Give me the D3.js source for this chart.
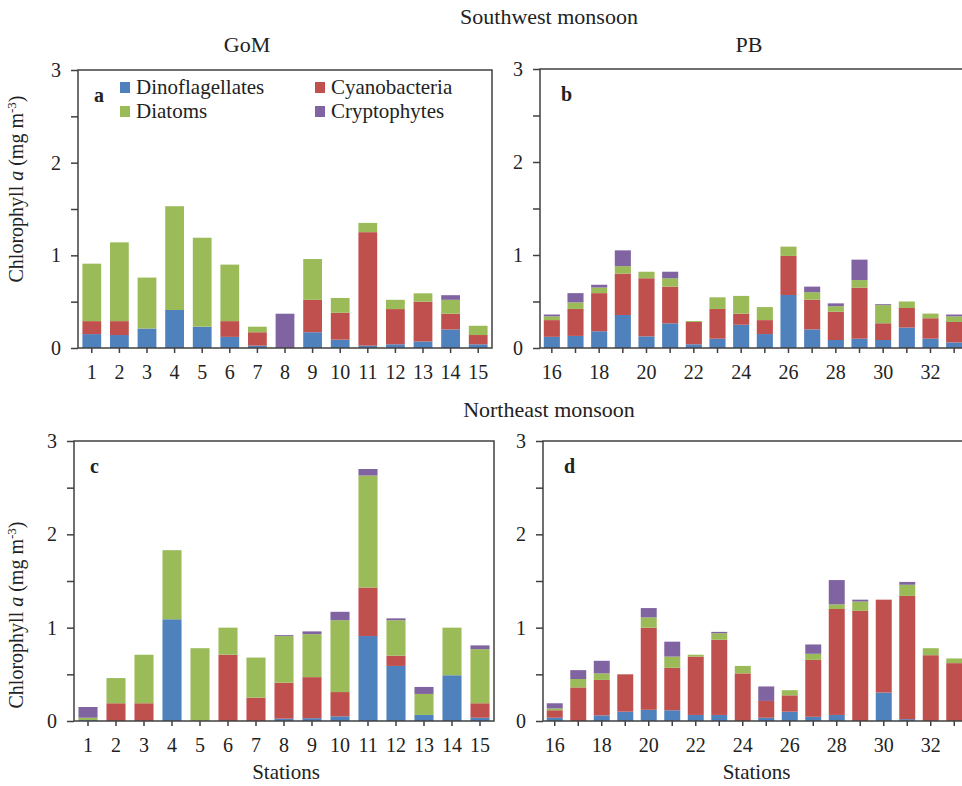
<!DOCTYPE html>
<html>
<head>
<meta charset="utf-8" />
<script src="https://cdn.jsdelivr.net/npm/d3@7"></script>
<style>
  body { margin: 0; background: #fff; }
  svg text { font-family: "Liberation Serif", "Times New Roman", serif; fill: #222; }
  .frame { fill: none; stroke: #404040; stroke-width: 1.5; }
  .axis path, .axis line { stroke: #404040; stroke-width: 1.5; }
  .axis text { font-size: 20px; }
</style>
</head>
<body>
<div id="chart"></div>
<script>
var W = 962, H = 786;

var groups = ["Dinoflagellates", "Cyanobacteria", "Diatoms", "Cryptophytes"];
var colors = ["#4F81BD", "#C0504D", "#9BBB59", "#8064A2"];

var stationsGoM = [1, 2, 3, 4, 5, 6, 7, 8, 9, 10, 11, 12, 13, 14, 15];
var stationsPB = [16, 17, 18, 19, 20, 21, 22, 23, 24, 25, 26, 27, 28, 29, 30, 31, 32, 33];
var labelsPB = [16, 18, 20, 22, 24, 26, 28, 30, 32];
var yTicks = [0, 0.5, 1, 1.5, 2, 2.5, 3];

// (a) southwest monsoon, GoM
var aDino   = [0.15, 0.14, 0.21, 0.41, 0.23, 0.12, 0.025, 0, 0.17, 0.09, 0.025, 0.04, 0.07, 0.20, 0.04];
var aCyano  = [0.14, 0.15, 0, 0, 0, 0.17, 0.145, 0, 0.35, 0.29, 1.225, 0.38, 0.43, 0.17, 0.10];
var aDiatom = [0.62, 0.85, 0.55, 1.12, 0.96, 0.61, 0.06, 0, 0.44, 0.16, 0.10, 0.10, 0.09, 0.15, 0.10];
var aCrypto = [0, 0, 0, 0, 0, 0, 0, 0.37, 0, 0, 0, 0, 0, 0.05, 0];

// (b) southwest monsoon, PB
var bDino   = [0.12, 0.13, 0.18, 0.355, 0.125, 0.265, 0.04, 0.10, 0.25, 0.15, 0.57, 0.20, 0.086, 0.10, 0.086, 0.22, 0.10, 0.06];
var bCyano  = [0.18, 0.29, 0.41, 0.445, 0.625, 0.395, 0.24, 0.32, 0.12, 0.15, 0.42, 0.32, 0.304, 0.55, 0.18, 0.21, 0.22, 0.22];
var bDiatom = [0.04, 0.07, 0.06, 0.08, 0.07, 0.09, 0.01, 0.125, 0.19, 0.14, 0.10, 0.08, 0.06, 0.08, 0.195, 0.07, 0.05, 0.06];
var bCrypto = [0.02, 0.10, 0.03, 0.17, 0, 0.07, 0, 0, 0, 0, 0, 0.06, 0.03, 0.22, 0.01, 0, 0, 0.02];

// (c) northeast monsoon, GoM
var cDino   = [0.01, 0, 0, 1.09, 0, 0, 0, 0.025, 0.03, 0.05, 0.91, 0.59, 0.065, 0.49, 0.035];
var cCyano  = [0, 0.19, 0.19, 0, 0, 0.71, 0.25, 0.385, 0.44, 0.26, 0.52, 0.11, 0, 0, 0.155];
var cDiatom = [0.025, 0.27, 0.52, 0.74, 0.78, 0.29, 0.43, 0.50, 0.46, 0.77, 1.20, 0.38, 0.225, 0.51, 0.58];
var cCrypto = [0.115, 0, 0, 0, 0, 0, 0, 0.01, 0.03, 0.09, 0.07, 0.02, 0.075, 0, 0.04];

// (d) northeast monsoon, PB
var dDino   = [0.035, 0, 0.06, 0.10, 0.12, 0.115, 0.065, 0.065, 0, 0.035, 0.10, 0.045, 0.065, 0, 0.305, 0.02, 0, 0];
var dCyano  = [0.08, 0.36, 0.38, 0.40, 0.88, 0.455, 0.625, 0.805, 0.51, 0.18, 0.175, 0.61, 1.135, 1.18, 0.995, 1.32, 0.705, 0.62];
var dDiatom = [0.02, 0.09, 0.07, 0, 0.11, 0.12, 0.02, 0.07, 0.08, 0, 0.055, 0.065, 0.05, 0.10, 0, 0.12, 0.075, 0.05];
var dCrypto = [0.055, 0.095, 0.135, 0, 0.10, 0.16, 0, 0.015, 0, 0.155, 0, 0.10, 0.26, 0.02, 0, 0.03, 0, 0];

var panels = [
  { id: "a", stations: stationsGoM, labels: stationsGoM, series: [aDino, aCyano, aDiatom, aCrypto], x0: 78, x1: 492, y0: 70, y1: 348, legend: true, ylabel: 189 },
  { id: "b", stations: stationsPB, labels: labelsPB, series: [bDino, bCyano, bDiatom, bCrypto], x0: 540, x1: 966, y0: 69, y1: 348 },
  { id: "c", stations: stationsGoM, labels: stationsGoM, series: [cDino, cCyano, cDiatom, cCrypto], x0: 74, x1: 494, y0: 441, y1: 721, ylabel: 615, xtitle: true },
  { id: "d", stations: stationsPB, labels: labelsPB, series: [dDino, dCyano, dDiatom, dCrypto], x0: 543, x1: 966, y0: 441, y1: 721, xtitle: true }
];

var svg = d3.select("#chart").append("svg")
  .attr("width", W).attr("height", H);

svg.append("rect").attr("width", W).attr("height", H).attr("fill", "#fff");

panels.forEach(function(p) {
  var rows = p.stations.map(function(s, i) {
    var r = { station: s };
    groups.forEach(function(g, k) { r[g] = p.series[k][i]; });
    return r;
  });
  var stacked = d3.stack().keys(groups)(rows);

  var x = d3.scaleBand().domain(p.stations).range([p.x0, p.x1])
    .paddingInner(0.32).paddingOuter(0.16);
  var y = d3.scaleLinear().domain([0, 3]).range([p.y1, p.y0]);

  var g = svg.append("g");

  // stacked bars
  g.selectAll("g.layer").data(stacked).enter()
    .append("g").attr("class", "layer")
    .attr("fill", function(d, i) { return colors[i]; })
    .selectAll("rect").data(function(d) { return d; }).enter()
    .append("rect")
      .attr("x", function(d) { return x(d.data.station); })
      .attr("width", x.bandwidth())
      .attr("y", function(d) { return y(d[1]); })
      .attr("height", function(d) { return y(d[0]) - y(d[1]); });

  g.append("rect").attr("class", "frame")
    .attr("x", p.x0).attr("y", p.y0)
    .attr("width", p.x1 - p.x0).attr("height", p.y1 - p.y0);

  g.append("g").attr("class", "axis")
    .attr("transform", "translate(" + p.x0 + ",0)")
    .call(d3.axisLeft(y).tickValues(yTicks).tickSize(7).tickPadding(10)
      .tickFormat(function(v) { return v % 1 === 0 ? d3.format("d")(v) : ""; }))
    .call(function(a) { a.select(".domain").remove(); });

  g.append("g").attr("class", "axis")
    .attr("transform", "translate(0," + p.y1 + ")")
    .call(d3.axisBottom(x).tickSize(5).tickPadding(12)
      .tickFormat(function(s) { return p.labels.indexOf(s) >= 0 ? s : ""; }))
    .call(function(a) { a.select(".domain").remove(); });

  // panel letter
  g.append("text")
    .attr("x", p.id === "a" || p.id === "c" ? p.x0 + 16 : p.x0 + 21)
    .attr("y", p.y0 + 32)
    .attr("font-size", 20).attr("font-weight", "bold")
    .text(p.id);

  if (p.ylabel) {
    var t = g.append("text")
      .attr("transform", "translate(23," + p.ylabel + ") rotate(-90)")
      .attr("text-anchor", "middle").attr("font-size", 20);
    t.append("tspan").text("Chlorophyll ");
    t.append("tspan").attr("font-style", "italic").text("a");
    t.append("tspan").text(" (mg m");
    t.append("tspan").attr("font-size", 13).attr("dy", -7).text("-3");
    t.append("tspan").attr("dy", 7).text(")");
  }

  if (p.xtitle) {
    g.append("text")
      .attr("x", (p.x0 + p.x1) / 2 + 2)
      .attr("y", 779).attr("text-anchor", "middle").attr("font-size", 21)
      .text("Stations");
  }

  if (p.legend) {
    var lg = g.append("g");
    var pos = [[120, 82], [315, 82], [120, 106], [315, 106]];
    groups.forEach(function(name, k) {
      lg.append("rect")
        .attr("x", pos[k][0]).attr("y", pos[k][1])
        .attr("width", 10).attr("height", 11)
        .attr("fill", colors[k]);
      lg.append("text")
        .attr("x", pos[k][0] + 16).attr("y", pos[k][1] + 12)
        .attr("font-size", 21).text(name);
    });
  }
});

svg.append("text").attr("x", 549).attr("y", 24).attr("text-anchor", "middle")
  .attr("font-size", 22).text("Southwest monsoon");
svg.append("text").attr("x", 247).attr("y", 52).attr("text-anchor", "middle")
  .attr("font-size", 22).text("GoM");
svg.append("text").attr("x", 749).attr("y", 52).attr("text-anchor", "middle")
  .attr("font-size", 22).text("PB");
svg.append("text").attr("x", 549).attr("y", 417).attr("text-anchor", "middle")
  .attr("font-size", 22).text("Northeast monsoon");
</script>
</body>
</html>
